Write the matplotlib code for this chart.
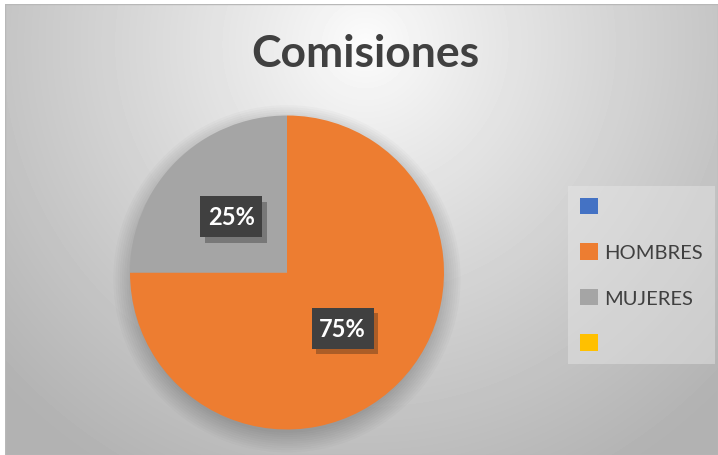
import numpy as np
import matplotlib
matplotlib.use("Agg")
import matplotlib.pyplot as plt
from matplotlib.patches import Rectangle, Patch, Ellipse
import matplotlib.patheffects as pe

# data
labels = ["", "HOMBRES", "MUJERES", ""]
values = [0, 75, 25, 0]
colors = ["#4472C4", "#ED7D31", "#A5A5A5", "#FFC000"]
title = "Comisiones"

W, H = 718, 456
fig = plt.figure(figsize=(W / 100, H / 100), dpi=100)
fig.patch.set_facecolor("white")

# background with a soft radial gradient (Excel style)
bg = fig.add_axes([5 / W, 0, (W - 5) / W, (H - 5) / H])
yy, xx = np.mgrid[0:H - 5, 0:W - 5]
d = np.sqrt(((xx - 360) / 380.0) ** 2 + ((yy - 40) / 380.0) ** 2)
shade = 0.99 - 0.23 * np.clip(d, 0, 1.3) ** 0.9
bg.imshow(shade, cmap="gray", vmin=0, vmax=1, aspect="auto",
          extent=[0, W - 5, H - 5, 0], interpolation="bilinear")
bg.set_xlim(0, W - 5)
bg.set_ylim(H - 5, 0)
bg.axis("off")
bg.add_patch(Rectangle((0, 0), W - 5, H - 5, fill=False, edgecolor="#b8b8b8", lw=1))

# title
fig.text(365 / W, 1 - 54 / H, title, ha="center", va="center",
         fontsize=32, fontweight="bold", color="#404040", family="Lato")

# pie
cx, cy, r = 287, 273.5, 157
ax = fig.add_axes([(cx - r) / W, 1 - (cy + r) / H, 2 * r / W, 2 * r / H])

# soft shadow under the pie
for i in range(10):
    ax.add_patch(Ellipse((0, -0.04), 2 * (0.98 + 0.014 * i), 2 * (0.98 + 0.014 * i),
                         color="black", alpha=0.02, lw=0, zorder=0, clip_on=False))

shown = [v for v in values if v > 0]
shown_cols = [c for v, c in zip(values, colors) if v > 0]
wedges, _ = ax.pie(shown, colors=shown_cols, startangle=90, counterclock=False,
                   radius=1, wedgeprops=dict(linewidth=0))
for w in wedges:
    w.set_zorder(2)
ax.set_xlim(-1, 1)
ax.set_ylim(-1, 1)
ax.set_aspect("equal")
ax.axis("off")

total = sum(shown)
bw, bh = 62 / r, 41 / r
for w, v in zip(wedges, shown):
    ang = np.deg2rad((w.theta1 + w.theta2) / 2)
    x, y = 0.5 * np.cos(ang), 0.5 * np.sin(ang)
    box = Rectangle((x - bw / 2, y - bh / 2), bw, bh, facecolor="#404040",
                    edgecolor="none", zorder=3)
    box.set_path_effects([pe.SimplePatchShadow(offset=(3, -4), alpha=0.3),
                          pe.Normal()])
    ax.add_patch(box)
    ax.text(x, y, "%d%%" % round(100 * v / total), ha="center", va="center",
            color="white", fontsize=17, fontweight="bold", family="Lato", zorder=4)

# legend
handles = [Patch(facecolor=c, edgecolor="none") for c in colors]
leg = fig.legend(handles, labels, loc="center left",
                 bbox_to_anchor=(568 / W, 1 - 276 / H),
                 frameon=True, labelspacing=1.35,
                 handlelength=0.9, handleheight=0.9, handletextpad=0.3,
                 borderpad=0.6, borderaxespad=0,
                 prop={"family": "Lato", "size": 14.5})
leg.get_frame().set_facecolor("#e8e8e8")
leg.get_frame().set_edgecolor("none")
leg.get_frame().set_alpha(0.45)
leg.get_frame().set_boxstyle("square", pad=0)
for t in leg.get_texts():
    t.set_color("#404040")

fig.savefig("out.png", dpi=100)
